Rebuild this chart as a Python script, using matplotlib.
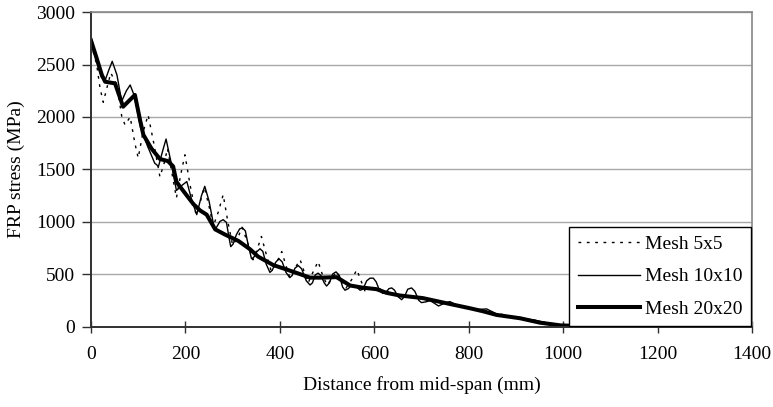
import matplotlib.pyplot as plt

plt.rcParams["font.family"] = ["Liberation Serif", "DejaVu Serif"]

# Mesh 20x20 (thick)
dist_20 = [0, 12, 23, 30, 51, 68, 93, 104, 111, 128, 146, 163, 174, 181, 188,
           217, 231, 245, 263, 284, 312, 337, 354, 386, 429, 464, 490, 520,
           549, 575, 605, 626, 654, 703, 753, 803, 830, 859, 909, 951, 995,
           1050, 1100, 1150]
stress_20 = [2730, 2560, 2400, 2336, 2320, 2098, 2210, 1970, 1830, 1700, 1600,
             1580, 1530, 1384, 1340, 1170, 1110, 1070, 930, 880, 820, 740, 670,
             590, 525, 470, 470, 475, 395, 375, 360, 325, 300, 275, 226, 178,
             150, 115, 83, 41, 15, 8, 4, 0]

# Mesh 10x10 (thin solid)
dist_10 = [0, 10, 22, 30, 38, 45, 55, 65, 75, 83, 92, 105, 120, 135, 143, 152,
           159, 170, 181, 193, 203, 214, 224, 234, 241, 250, 262, 266, 273,
           280, 287, 292, 296, 301, 308, 315, 321, 327, 333, 340, 345, 351,
           358, 364, 371, 379, 384, 391, 398, 405, 413, 421, 426, 432, 439,
           446, 456, 464, 469, 475, 481, 487, 494, 499, 505, 512, 519, 526,
           533, 538, 545, 552, 560, 570, 576, 584, 591, 598, 604, 611, 618,
           625, 631, 637, 643, 650, 658, 664, 671, 679, 686, 694, 700, 710,
           718, 726, 736, 748, 760, 772, 790, 812, 825, 838, 850, 860, 900,
           940, 975, 1000, 1050, 1100]
stress_10 = [2730, 2560, 2380, 2350, 2450, 2530, 2400, 2150, 2250, 2305, 2200,
             1900, 1720, 1560, 1530, 1680, 1790, 1560, 1300, 1350, 1385, 1200,
             1070, 1250, 1340, 1200, 920, 950, 1005, 1022, 995, 860, 765, 790,
             880, 935, 943, 915, 780, 650, 665, 715, 745, 720, 600, 520, 540,
             615, 650, 620, 520, 470, 490, 560, 585, 555, 440, 400, 420, 495,
             513, 490, 420, 390, 420, 505, 525, 490, 380, 350, 365, 400, 390,
             350, 360, 440, 465, 465, 430, 350, 320, 330, 365, 372, 350, 290,
             260, 290, 360, 372, 340, 255, 232, 240, 252, 230, 200, 225, 242,
             215, 190, 165, 168, 172, 145, 120, 90, 65, 30, 15, 8, 3]

# Mesh 5x5 (dotted)
dist_5 = [0, 12, 19, 26, 35, 42, 55, 65, 72, 83, 93, 100, 110, 121, 133, 146,
          155, 162, 170, 181, 190, 199, 210, 222, 232, 240, 250, 259, 270, 280,
          290, 300, 312, 320, 332, 343, 352, 361, 372, 382, 394, 404, 412, 421,
          432, 443, 452, 460, 470, 481, 490, 500, 510, 520, 530, 540, 552, 563,
          572, 580, 600, 640, 680, 720, 760, 800, 840, 880, 920, 960, 1000,
          1050, 1100]
stress_5 = [2700, 2500, 2280, 2140, 2300, 2420, 2300, 2010, 1925, 2000, 1750,
            1610, 1850, 2020, 1750, 1430, 1560, 1700, 1500, 1230, 1450, 1640,
            1350, 1080, 1200, 1330, 1150, 960, 1100, 1260, 1000, 780, 860, 950,
            800, 640, 740, 862, 680, 530, 620, 718, 600, 470, 560, 640, 520,
            420, 520, 624, 500, 400, 460, 530, 440, 370, 450, 545, 440, 345,
            380, 320, 290, 250, 220, 180, 150, 110, 80, 45, 15, 5, 0]

fig = plt.figure(figsize=(7.73, 4.07), dpi=100)
ax = fig.add_axes([0.1177, 0.1966, 0.8551, 0.7739])

ax.plot(dist_5, stress_5, color="black", linewidth=1.0, linestyle=(0, (2, 4)),
        label="Mesh 5x5")
ax.plot(dist_10, stress_10, color="black", linewidth=1.0, label="Mesh 10x10")
ax.plot(dist_20, stress_20, color="black", linewidth=2.9, label="Mesh 20x20")

ax.set_xlim(0, 1400)
ax.set_ylim(0, 3000)
ax.set_xticks(range(0, 1401, 200))
ax.set_yticks(range(0, 3001, 500))
ax.yaxis.grid(True, color="#a8a8a8", linewidth=1.0)
ax.set_axisbelow(True)

for side in ["top", "right"]:
    ax.spines[side].set_color("#888888")
    ax.spines[side].set_linewidth(1.2)
for side in ["left", "bottom"]:
    ax.spines[side].set_color("#303030")
    ax.spines[side].set_linewidth(1.4)

ax.tick_params(axis="x", direction="inout", length=8, width=1, colors="#303030",
               labelcolor="black", labelsize=14, pad=10)
ax.tick_params(axis="y", direction="out", length=6.5, width=1, colors="#303030",
               labelcolor="black", labelsize=14, pad=5)

ax.set_xlabel("Distance from mid-span (mm)", fontsize=14, labelpad=9)
ax.set_ylabel("FRP stress (MPa)", fontsize=14, labelpad=8)

leg = ax.legend(loc="lower right", bbox_to_anchor=(0.999, 0.002),
                borderaxespad=0, fontsize=14, frameon=True, fancybox=False,
                framealpha=1, edgecolor="black", handlelength=3.2,
                handletextpad=0.25, labelspacing=0.75, borderpad=0.45)
leg.get_frame().set_linewidth(1.0)

fig.savefig("out.png", dpi=100)
